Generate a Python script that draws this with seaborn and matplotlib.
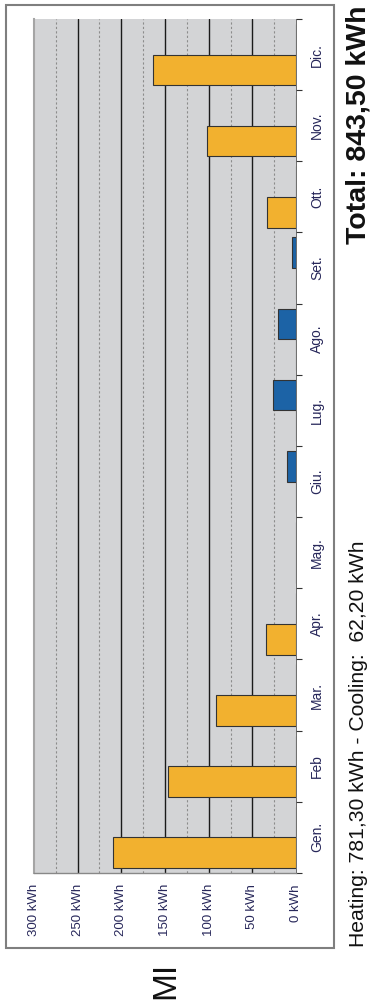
import matplotlib
matplotlib.use('Agg')
import matplotlib.pyplot as plt
from matplotlib.patches import Rectangle
from matplotlib.ticker import MultipleLocator, FixedLocator
import numpy as np
import pandas as pd
import seaborn as sns

# dati (kWh al mese)
mesi = ['Gen.', 'Feb', 'Mar.', 'Apr.', 'Mag.', 'Giu.', 'Lug.', 'Ago.', 'Set.', 'Ott.', 'Nov.', 'Dic.']
riscaldamento = [209.2, 146.5, 91.8, 34.5, 0, 0, 0, 0, 0, 33.7, 101.8, 163.8]
raffrescamento = [0, 0, 0, 0, 0, 10.5, 26.5, 20.8, 4.4, 0, 0, 0]
tipi = ['heating', 'cooling']
valori_asse = [0, 50, 100, 150, 200, 250, 300]
etichette_asse = [f'{v} kWh' for v in valori_asse]
testo_totale = 'Total: 843,50 kWh'
testo_dettaglio = 'Heating: 781,30 kWh - Cooling:  62,20 kWh'
sigla = 'MI'

W, H = 371, 1005

sns.set_style('white')
plt.rcParams['font.family'] = ['Liberation Sans', 'DejaVu Sans']

df = pd.DataFrame({
    'mese': mesi * 2,
    'kwh': riscaldamento + raffrescamento,
    'tipo': [tipi[0]] * len(mesi) + [tipi[1]] * len(mesi),
})

fig = plt.figure(figsize=(W / 100, H / 100), dpi=100)
ax = fig.add_axes([34 / W, 1 - 873 / H, (296 - 34) / W, (873 - 19) / H])
ax.set_facecolor('#d3d4d6')

sns.barplot(data=df, x='kwh', y='mese', hue='tipo', order=mesi, hue_order=tipi,
            palette=['#f2b12f', '#1c63a6'], orient='h', width=0.86, saturation=1,
            errorbar=None, edgecolor='#333333', linewidth=0.8, legend=False, ax=ax)

# il grafico e' ruotato: valori crescono verso sinistra, Gen. in basso
ax.set_xlim(300, 0)
ax.set_ylim(-0.5, len(mesi) - 0.5)
ax.set_xlabel('')
ax.set_ylabel('')

lab_col = '#27275a'
ax.set_xticks(valori_asse)
ax.set_xticklabels(etichette_asse, rotation=90, fontsize=9.5, color=lab_col)
ax.xaxis.set_minor_locator(MultipleLocator(25))
ax.grid(axis='x', which='major', color='#1a1a1a', lw=1)
ax.grid(axis='x', which='minor', color='#8c8c8c', lw=0.8, ls=(0, (2, 2)))
ax.set_axisbelow(True)
for t in ax.xaxis.get_major_ticks():
    if t.get_loc() in (0, 300):
        t.gridline.set_visible(False)
ax.tick_params(axis='x', which='major', length=3, width=0.8, color='#333333', pad=5)
ax.tick_params(axis='x', which='minor', length=0)

ax.yaxis.tick_right()
ax.set_yticks(range(len(mesi)))
ax.set_yticklabels(mesi, rotation=90, fontsize=10, color=lab_col, va='center')
ax.yaxis.set_minor_locator(FixedLocator(np.arange(-0.5, len(mesi), 1)))
ax.tick_params(axis='y', which='major', length=0, pad=10)
ax.tick_params(axis='y', which='minor', length=4, width=0.8, color='#333333',
               right=True, left=False)

ax.spines['top'].set_visible(False)
ax.spines['left'].set_color('#a5a5a5')
ax.spines['left'].set_linewidth(1.5)
ax.spines['right'].set_color('#555555')
ax.spines['right'].set_linewidth(0.6)
ax.spines['bottom'].set_color('#888888')
ax.spines['bottom'].set_linewidth(1)

# cornice esterna
fig.patches.append(Rectangle((6 / W, 1 - 948 / H), (334 - 6) / W, (948 - 5) / H,
                             transform=fig.transFigure, fill=False,
                             edgecolor='#7f7f7f', lw=1.5))

fig.text(359 / W, 1 - 5 / H, testo_totale, rotation=90, ha='center', va='top',
         fontsize=20.5, fontweight='bold', color='#111111')
fig.text(359 / W, 1 - 947 / H, testo_dettaglio, rotation=90, ha='center', va='bottom',
         fontsize=15.2, color='#111111')
fig.text(166 / W, 1 - 980 / H, sigla, rotation=90, ha='center', va='center',
         fontsize=24, color='#111111')

fig.savefig('out.png', dpi=100)
